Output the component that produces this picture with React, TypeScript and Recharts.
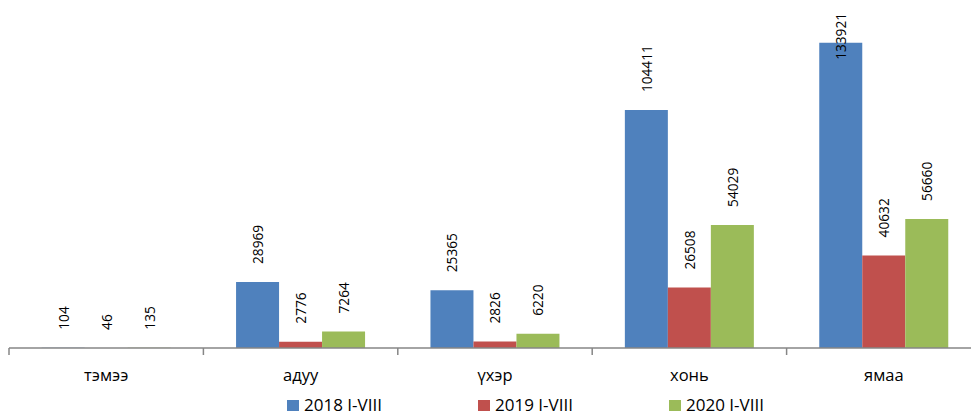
import React from "react";
import { Bar, BarChart, XAxis, YAxis } from "recharts";

const categories = ["тэмээ", "адуу", "үхэр", "хонь", "ямаа"];
const series2018 = [104, 28969, 25365, 104411, 133921];
const series2019 = [46, 2776, 2826, 26508, 40632];
const series2020 = [135, 7264, 6220, 54029, 56660];

const seriesInfo = [
  { key: "y2018", name: "2018 I-VIII", color: "#4F81BD" },
  { key: "y2019", name: "2019 I-VIII", color: "#C0504D" },
  { key: "y2020", name: "2020 I-VIII", color: "#9BBB59" },
];

const rows = categories.map((c, i) => ({
  cat: c,
  y2018: series2018[i],
  y2019: series2019[i],
  y2020: series2020[i],
}));

const FONT = "'Open Sans', 'DejaVu Sans', sans-serif";
const AXIS = "#868686";

const BarValueLabel = (props: any) => {
  const { x, y, width, value } = props;
  const cx = x + width / 2;
  const len = String(value).length * 7.8;
  let base = y - 18;
  // no room above the plot: Excel pulls the label inside the bar top
  if (base - len < 0) base = y + 17;
  return (
    <text
      x={cx}
      y={base}
      transform={`rotate(-90 ${cx} ${base})`}
      textAnchor="start"
      dominantBaseline="central"
      fontSize={13.7}
      fontFamily={FONT}
      fill="#000"
    >
      {value}
    </text>
  );
};

// category label plus tick marks at the band edges (Excel style)
const CatTick = (props: any) => {
  const { x, y, payload, index, visibleTicksCount } = props;
  const half = payload?.offset || 97.2;
  const top = y - 8;
  const last = index === (visibleTicksCount ?? categories.length) - 1;
  return (
    <g>
      <line x1={x - half} x2={x - half} y1={top} y2={top + 7} stroke={AXIS} strokeWidth={1.5} />
      {last && <line x1={x + half} x2={x + half} y1={top} y2={top + 7} stroke={AXIS} strokeWidth={1.5} />}
      <text x={x} y={381} textAnchor="middle" fontSize={16.5} fontFamily={FONT} fill="#000">
        {payload.value}
      </text>
    </g>
  );
};

export default function App() {
  return (
    <div style={{ position: "absolute", left: 0, top: 0, width: 971, height: 417, background: "#fff", overflow: "hidden" }}>
      <BarChart
        width={971}
        height={417}
        data={rows}
        margin={{ top: 29, right: -10, left: 9, bottom: 0 }}
        barCategoryGap="16.8%"
        barGap={0}
      >
        <XAxis
          dataKey="cat"
          height={69}
          axisLine={{ stroke: AXIS, strokeWidth: 1.5 }}
          tickLine={false}
          tick={<CatTick />}
          interval={0}
        />
        <YAxis hide domain={[0, 140000]} />
        {seriesInfo.map((s) => (
          <Bar
            key={s.key}
            dataKey={s.key}
            name={s.name}
            fill={s.color}
            isAnimationActive={false}
            label={<BarValueLabel />}
          />
        ))}
      </BarChart>
      <div
        style={{
          position: "absolute",
          top: 397,
          left: 287,
          display: "flex",
          fontFamily: FONT,
          fontSize: 17,
          color: "#000",
          lineHeight: "16px",
          whiteSpace: "nowrap",
        }}
      >
        {seriesInfo.map((s) => (
          <div key={s.key} style={{ width: 191, display: "flex", alignItems: "center" }}>
            <span style={{ display: "inline-block", width: 12, height: 11, background: s.color, marginRight: 5 }} />
            <span>{s.name}</span>
          </div>
        ))}
      </div>
    </div>
  );
}
